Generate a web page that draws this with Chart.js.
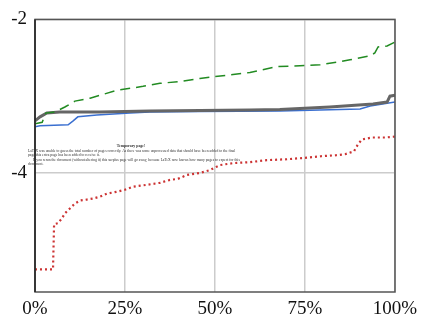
<!DOCTYPE html>
<html>
<head>
<meta charset="utf-8">
<script src="https://cdn.jsdelivr.net/npm/chart.js@4/dist/chart.umd.min.js"></script>
<style>
html,body{margin:0;padding:0;background:#fff;}
canvas{display:block;}
</style>
</head>
<body>
<canvas id="c" width="427" height="324"></canvas>
<script>
// ---- data (x in percent, y values) ----
const xTicks = [0, 25, 50, 75, 100];
const yTicks = [-4, -2];

const greenX = [0, 2.0, 3.0, 5.6, 8.3, 11.1, 15.3, 18.1, 22.8, 30.0, 34.7, 40.3, 45.8, 50.0, 55.0, 59.7, 67.2, 73.6, 79.2, 84.7, 87.5, 93.1, 94.4, 95.3, 97.8, 100];
const greenY = [-3.36, -3.34, -3.22, -3.205, -3.141, -3.064, -3.026, -2.987, -2.923, -2.872, -2.833, -2.808, -2.769, -2.744, -2.718, -2.692, -2.615, -2.603, -2.59, -2.551, -2.526, -2.474, -2.436, -2.359, -2.346, -2.295];

const grayX = [0, 1.4, 3.3, 6.9, 18.0, 31.9, 45.8, 59.7, 68.0, 81.9, 93.9, 97.8, 98.6, 100];
const grayY = [-3.321, -3.269, -3.218, -3.205, -3.205, -3.192, -3.186, -3.179, -3.173, -3.141, -3.103, -3.077, -3.0, -2.987];

const blueX = [0, 1.4, 9.2, 10.6, 11.9, 17.2, 26.4, 31.9, 45.8, 68.0, 90.3, 93.1, 100];
const blueY = [-3.397, -3.385, -3.372, -3.321, -3.269, -3.244, -3.218, -3.205, -3.199, -3.192, -3.167, -3.128, -3.077];

const redX = [0, 5.0, 5.3, 6.4, 7.5, 8.3, 9.7, 11.1, 12.5, 14.4, 16.1, 18.1, 20.0, 22.8, 25.0, 27.2, 31.1, 34.7, 37.5, 39.7, 42.2, 45.8, 48.6, 51.4, 55.0, 59.7, 64.4, 70.0, 75.6, 79.4, 83.6, 86.1, 88.6, 89.7, 90.8, 93.6, 97.2, 100];
const redY = [-5.256, -5.256, -4.667, -4.654, -4.59, -4.526, -4.462, -4.397, -4.359, -4.346, -4.333, -4.308, -4.269, -4.244, -4.218, -4.179, -4.154, -4.128, -4.09, -4.077, -4.026, -4.0, -3.962, -3.897, -3.872, -3.859, -3.833, -3.821, -3.801, -3.782, -3.769, -3.756, -3.718, -3.628, -3.564, -3.538, -3.538, -3.526];

const noteTitle = "Temporary page!";
const noteLines = [
  "LaTeX was unable to guess the total number of pages correctly. As there was some unprocessed data that should have been added to the final",
  "page this extra page has been added to receive it.",
  "If you rerun the document (without altering it) this surplus page will go away, because LaTeX now knows how many pages to expect for this",
  "document."
];

const pts = (xs, ys) => xs.map((x, i) => ({x: x, y: ys[i]}));
const serif = "'Liberation Serif', 'DejaVu Serif', serif";

const framePlugin = {
  id: 'frame',
  afterDatasetsDraw(chart) {
    const {ctx, chartArea: a} = chart;
    ctx.save();
    ctx.strokeStyle = '#555';
    ctx.lineWidth = 1.5;
    ctx.strokeRect(a.left, a.top, a.right - a.left, a.bottom - a.top);
    ctx.strokeStyle = '#222';
    ctx.beginPath();
    ctx.moveTo(a.left, a.top); ctx.lineTo(a.left, a.bottom);
    ctx.stroke();
    ctx.restore();
  },
  afterDraw(chart) {
    const ctx = chart.ctx;
    ctx.save();
    ctx.fillStyle = '#333';
    ctx.textBaseline = 'middle';
    ctx.font = '10px ' + serif;
    const w = ctx.measureText(noteLines[0]).width;
    const fs = 10 * 208 / w;
    ctx.font = 'bold ' + (fs * 1.05) + 'px ' + serif;
    ctx.textAlign = 'center';
    ctx.fillText(noteTitle, 131, 146);
    ctx.font = fs + 'px ' + serif;
    ctx.textAlign = 'left';
    ctx.fillText(noteLines[0], 28, 151);
    ctx.fillText(noteLines[1], 28, 155.5);
    ctx.fillText(noteLines[2], 33, 160);
    ctx.fillText(noteLines[3], 28, 164.5);
    ctx.restore();
  }
};

new Chart(document.getElementById('c'), {
  type: 'line',
  data: {
    datasets: [
      {data: pts(redX, redY), borderColor: '#cc3333', borderWidth: 2.2, borderDash: [2, 3], pointRadius: 0, tension: 0, fill: false},
      {data: pts(greenX, greenY), borderColor: '#228b22', borderWidth: 1.5, borderDash: [10, 6], pointRadius: 0, tension: 0, fill: false},
      {data: pts(grayX, grayY), borderColor: '#666666', borderWidth: 3, pointRadius: 0, tension: 0, fill: false},
      {data: pts(blueX, blueY), borderColor: '#3a6fd0', borderWidth: 1.5, pointRadius: 0, tension: 0, fill: false}
    ]
  },
  options: {
    responsive: false,
    animation: false,
    events: [],
    layout: {padding: {top: 15, right: 32, left: 0, bottom: 0}},
    plugins: {legend: {display: false}, tooltip: {enabled: false}},
    scales: {
      x: {
        type: 'linear', min: 0, max: 100,
        afterBuildTicks: s => { s.ticks = xTicks.map(v => ({value: v})); },
        afterFit: s => { s.height = 32; },
        grid: {color: '#cccccc', lineWidth: 1.5, drawTicks: false},
        border: {display: false},
        ticks: {padding: 6, color: '#111', font: {family: serif, size: 19}, callback: v => v + '%', maxRotation: 0}
      },
      y: {
        type: 'linear', min: -5.55, max: -2,
        afterBuildTicks: s => { s.ticks = yTicks.map(v => ({value: v})); },
        afterFit: s => { s.width = 35; },
        grid: {color: '#cccccc', lineWidth: 1.5, drawTicks: false},
        border: {display: false},
        ticks: {padding: 8, color: '#111', font: {family: serif, size: 19}}
      }
    }
  },
  plugins: [framePlugin]
});
</script>
</body>
</html>
